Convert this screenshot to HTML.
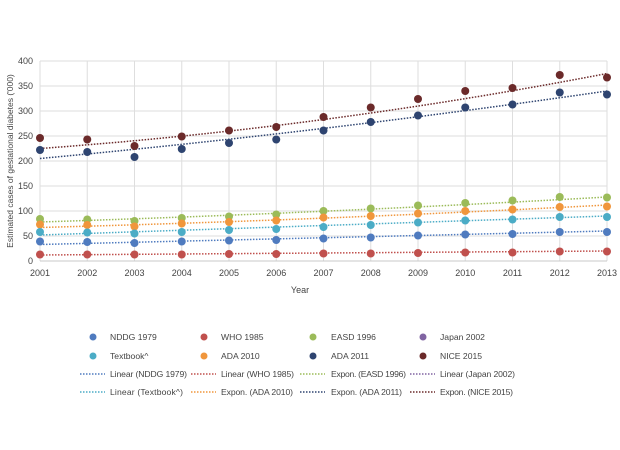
<!DOCTYPE html><html><head><style>body{margin:0;background:#fff}svg{font-family:"Liberation Sans",sans-serif}</style></head><body>
<svg width="620" height="445" xmlns="http://www.w3.org/2000/svg">
<rect width="620" height="445" fill="#fff"/>
<g stroke="#dedede" stroke-width="1">
<line x1="40" y1="61" x2="607" y2="61"/><line x1="40" y1="86" x2="607" y2="86"/><line x1="40" y1="111" x2="607" y2="111"/><line x1="40" y1="136" x2="607" y2="136"/><line x1="40" y1="161" x2="607" y2="161"/><line x1="40" y1="186" x2="607" y2="186"/><line x1="40" y1="211" x2="607" y2="211"/><line x1="40" y1="236" x2="607" y2="236"/>
<line x1="40" y1="61" x2="40" y2="261"/><line x1="87.25" y1="61" x2="87.25" y2="261"/><line x1="134.5" y1="61" x2="134.5" y2="261"/><line x1="181.75" y1="61" x2="181.75" y2="261"/><line x1="229" y1="61" x2="229" y2="261"/><line x1="276.25" y1="61" x2="276.25" y2="261"/><line x1="323.5" y1="61" x2="323.5" y2="261"/><line x1="370.75" y1="61" x2="370.75" y2="261"/><line x1="418" y1="61" x2="418" y2="261"/><line x1="465.25" y1="61" x2="465.25" y2="261"/><line x1="512.5" y1="61" x2="512.5" y2="261"/><line x1="559.75" y1="61" x2="559.75" y2="261"/><line x1="607" y1="61" x2="607" y2="261"/>
</g>
<line x1="40" y1="261" x2="607" y2="261" stroke="#c8c8c8"/>
<g font-size="9" fill="#444" text-anchor="end">
<text x="33" y="64">400</text><text x="33" y="89">350</text><text x="33" y="114">300</text><text x="33" y="139">250</text><text x="33" y="164">200</text><text x="33" y="189">150</text><text x="33" y="214">100</text><text x="33" y="239">50</text><text x="33" y="264">0</text>
</g>
<g font-size="9" fill="#444" text-anchor="middle">
<text x="40" y="276">2001</text><text x="87.25" y="276">2002</text><text x="134.5" y="276">2003</text><text x="181.75" y="276">2004</text><text x="229" y="276">2005</text><text x="276.25" y="276">2006</text><text x="323.5" y="276">2007</text><text x="370.75" y="276">2008</text><text x="418" y="276">2009</text><text x="465.25" y="276">2010</text><text x="512.5" y="276">2011</text><text x="559.75" y="276">2012</text><text x="607" y="276">2013</text>
<text x="300" y="293">Year</text>
</g>
<text transform="translate(13,161) rotate(-90)" font-size="8.5" fill="#444" text-anchor="middle">Estimated cases of gestational diabetes ('000)</text>
<g stroke-width="1.5" stroke-dasharray="1.5,1.5" fill="none">
<path d="M40,148.5 Q323.5,128 607,73.5" stroke="#6b2a2a"/>
<path d="M40,158.5 Q323.5,132 607,91" stroke="#2e4470"/>
<path d="M40,222 Q323.5,213 607,197" stroke="#9bbb59"/>
<path d="M40,227.5 Q323.5,220 607,205" stroke="#f0963c"/>
<line x1="40" y1="235" x2="607" y2="216" stroke="#4bacc6"/>
<line x1="40" y1="244.5" x2="607" y2="231" stroke="#4f7bbf"/>
<line x1="40" y1="255" x2="607" y2="251" stroke="#c0504d"/>
</g>
<g fill="#6b2a2a"><circle cx="40" cy="138" r="4"/><circle cx="87.25" cy="139.5" r="4"/><circle cx="134.5" cy="146" r="4"/><circle cx="181.75" cy="136.5" r="4"/><circle cx="229" cy="130.5" r="4"/><circle cx="276.25" cy="127" r="4"/><circle cx="323.5" cy="117" r="4"/><circle cx="370.75" cy="107.5" r="4"/><circle cx="418" cy="99" r="4"/><circle cx="465.25" cy="91" r="4"/><circle cx="512.5" cy="88" r="4"/><circle cx="559.75" cy="75" r="4"/><circle cx="607" cy="77.5" r="4"/></g>
<g fill="#2e4470"><circle cx="40" cy="150" r="4"/><circle cx="87.25" cy="152" r="4"/><circle cx="134.5" cy="157" r="4"/><circle cx="181.75" cy="149" r="4"/><circle cx="229" cy="143" r="4"/><circle cx="276.25" cy="139.5" r="4"/><circle cx="323.5" cy="130.5" r="4"/><circle cx="370.75" cy="122" r="4"/><circle cx="418" cy="115.5" r="4"/><circle cx="465.25" cy="107.5" r="4"/><circle cx="512.5" cy="104.5" r="4"/><circle cx="559.75" cy="92.5" r="4"/><circle cx="607" cy="94.5" r="4"/></g>
<g fill="#9bbb59"><circle cx="40" cy="219" r="4"/><circle cx="87.25" cy="219.5" r="4"/><circle cx="134.5" cy="221" r="4"/><circle cx="181.75" cy="218" r="4"/><circle cx="229" cy="216.5" r="4"/><circle cx="276.25" cy="214.5" r="4"/><circle cx="323.5" cy="211" r="4"/><circle cx="370.75" cy="208.5" r="4"/><circle cx="418" cy="205.5" r="4"/><circle cx="465.25" cy="203" r="4"/><circle cx="512.5" cy="200.5" r="4"/><circle cx="559.75" cy="197" r="4"/><circle cx="607" cy="197.5" r="4"/></g>
<g fill="#f0963c"><circle cx="40" cy="224.5" r="4"/><circle cx="87.25" cy="225" r="4"/><circle cx="134.5" cy="226.5" r="4"/><circle cx="181.75" cy="223.5" r="4"/><circle cx="229" cy="222" r="4"/><circle cx="276.25" cy="220.5" r="4"/><circle cx="323.5" cy="217.5" r="4"/><circle cx="370.75" cy="216" r="4"/><circle cx="418" cy="213.5" r="4"/><circle cx="465.25" cy="211" r="4"/><circle cx="512.5" cy="209.5" r="4"/><circle cx="559.75" cy="207" r="4"/><circle cx="607" cy="206.5" r="4"/></g>
<g fill="#4bacc6"><circle cx="40" cy="232" r="4"/><circle cx="87.25" cy="232.5" r="4"/><circle cx="134.5" cy="233.5" r="4"/><circle cx="181.75" cy="232" r="4"/><circle cx="229" cy="230" r="4"/><circle cx="276.25" cy="229" r="4"/><circle cx="323.5" cy="227" r="4"/><circle cx="370.75" cy="225" r="4"/><circle cx="418" cy="222.5" r="4"/><circle cx="465.25" cy="220.5" r="4"/><circle cx="512.5" cy="219.5" r="4"/><circle cx="559.75" cy="217" r="4"/><circle cx="607" cy="217" r="4"/></g>
<g fill="#4f7bbf"><circle cx="40" cy="241.5" r="4"/><circle cx="87.25" cy="242" r="4"/><circle cx="134.5" cy="243" r="4"/><circle cx="181.75" cy="241.5" r="4"/><circle cx="229" cy="240.5" r="4"/><circle cx="276.25" cy="240" r="4"/><circle cx="323.5" cy="238.5" r="4"/><circle cx="370.75" cy="237.5" r="4"/><circle cx="418" cy="235.5" r="4"/><circle cx="465.25" cy="234.5" r="4"/><circle cx="512.5" cy="234" r="4"/><circle cx="559.75" cy="232" r="4"/><circle cx="607" cy="232" r="4"/></g>
<g fill="#c0504d"><circle cx="40" cy="254.5" r="4"/><circle cx="87.25" cy="254.5" r="4"/><circle cx="134.5" cy="254.5" r="4"/><circle cx="181.75" cy="254.5" r="4"/><circle cx="229" cy="254" r="4"/><circle cx="276.25" cy="254" r="4"/><circle cx="323.5" cy="253.5" r="4"/><circle cx="370.75" cy="253.5" r="4"/><circle cx="418" cy="253" r="4"/><circle cx="465.25" cy="252.5" r="4"/><circle cx="512.5" cy="252.5" r="4"/><circle cx="559.75" cy="251.5" r="4"/><circle cx="607" cy="251.5" r="4"/></g>
<g font-size="8.6" fill="#444">
<circle cx="93" cy="337" r="3.5" fill="#4f7bbf"/><text x="110" y="340">NDDG 1979</text>
<circle cx="204" cy="337" r="3.5" fill="#c0504d"/><text x="221" y="340">WHO 1985</text>
<circle cx="313" cy="337" r="3.5" fill="#9bbb59"/><text x="331" y="340">EASD 1996</text>
<circle cx="423" cy="337" r="3.5" fill="#8064a2"/><text x="440" y="340">Japan 2002</text>
<circle cx="93" cy="356" r="3.5" fill="#4bacc6"/><text x="110" y="359">Textbook^</text>
<circle cx="204" cy="356" r="3.5" fill="#f0963c"/><text x="221" y="359">ADA 2010</text>
<circle cx="313" cy="356" r="3.5" fill="#2e4470"/><text x="331" y="359">ADA 2011</text>
<circle cx="423" cy="356" r="3.5" fill="#6b2a2a"/><text x="440" y="359">NICE 2015</text>
<g stroke-width="1.5" stroke-dasharray="1.5,1.5">
<line x1="80" y1="374" x2="105" y2="374" stroke="#4f7bbf"/><line x1="191" y1="374" x2="216" y2="374" stroke="#c0504d"/><line x1="300" y1="374" x2="325" y2="374" stroke="#9bbb59"/><line x1="410" y1="374" x2="435" y2="374" stroke="#8064a2"/>
<line x1="80" y1="392" x2="105" y2="392" stroke="#4bacc6"/><line x1="191" y1="392" x2="216" y2="392" stroke="#f0963c"/><line x1="300" y1="392" x2="325" y2="392" stroke="#2e4470"/><line x1="410" y1="392" x2="435" y2="392" stroke="#6b2a2a"/>
</g>
<text x="110" y="377" textLength="77">Linear (NDDG 1979)</text><text x="221" y="377" textLength="73">Linear (WHO 1985)</text><text x="331" y="377" textLength="75">Expon. (EASD 1996)</text><text x="440" y="377" textLength="75">Linear (Japan 2002)</text>
<text x="110" y="395" textLength="73">Linear (Textbook^)</text><text x="221" y="395" textLength="72">Expon. (ADA 2010)</text><text x="331" y="395" textLength="71">Expon. (ADA 2011)</text><text x="440" y="395" textLength="73">Expon. (NICE 2015)</text>
</g>
</svg></body></html>
